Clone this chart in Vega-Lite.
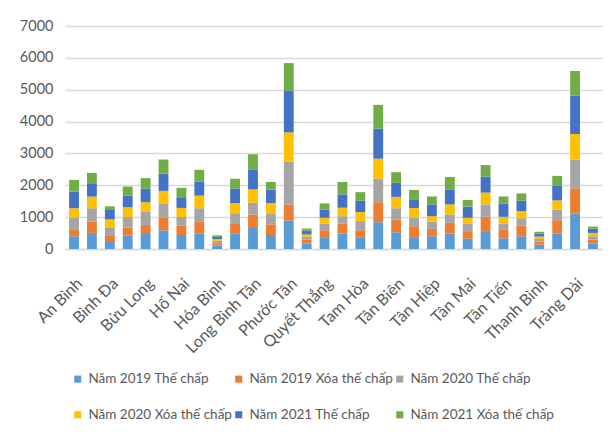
{
  "$schema": "https://vega.github.io/schema/vega-lite/v6.json",
  "width": 537,
  "height": 223,
  "autosize": {"type": "none"},
  "padding": {"left": 65, "top": 26, "right": 14, "bottom": 191},
  "background": "white",
  "config": {"font": "Lato", "view": {"stroke": null}},
  "data": {
    "values": [
      {"ward": "An Bình", "Năm 2019 Thế chấp": 400, "Năm 2019 Xóa thế chấp": 220, "Năm 2020 Thế chấp": 355, "Năm 2020 Xóa thế chấp": 305, "Năm 2021 Thế chấp": 525, "Năm 2021 Xóa thế chấp": 365},
      {"ward": "An Hòa", "Năm 2019 Thế chấp": 505, "Năm 2019 Xóa thế chấp": 355, "Năm 2020 Thế chấp": 420, "Năm 2020 Xóa thế chấp": 365, "Năm 2021 Thế chấp": 420, "Năm 2021 Xóa thế chấp": 325},
      {"ward": "Bình Đa", "Năm 2019 Thế chấp": 250, "Năm 2019 Xóa thế chấp": 160, "Năm 2020 Thế chấp": 250, "Năm 2020 Xóa thế chấp": 270, "Năm 2021 Thế chấp": 295, "Năm 2021 Xóa thế chấp": 115},
      {"ward": "Bửu Hòa", "Năm 2019 Thế chấp": 430, "Năm 2019 Xóa thế chấp": 240, "Năm 2020 Thế chấp": 335, "Năm 2020 Xóa thế chấp": 305, "Năm 2021 Thế chấp": 365, "Năm 2021 Xóa thế chấp": 285},
      {"ward": "Bửu Long", "Năm 2019 Thế chấp": 470, "Năm 2019 Xóa thế chấp": 285, "Năm 2020 Thế chấp": 410, "Năm 2020 Xóa thế chấp": 305, "Năm 2021 Thế chấp": 420, "Năm 2021 Xóa thế chấp": 335},
      {"ward": "Hiệp Hòa", "Năm 2019 Thế chấp": 585, "Năm 2019 Xóa thế chấp": 400, "Năm 2020 Thế chấp": 430, "Năm 2020 Xóa thế chấp": 410, "Năm 2021 Thế chấp": 545, "Năm 2021 Xóa thế chấp": 440},
      {"ward": "Hố Nai", "Năm 2019 Thế chấp": 440, "Năm 2019 Xóa thế chấp": 295, "Năm 2020 Thế chấp": 270, "Năm 2020 Xóa thế chấp": 285, "Năm 2021 Thế chấp": 335, "Năm 2021 Xóa thế chấp": 295},
      {"ward": "Hóa An", "Năm 2019 Thế chấp": 480, "Năm 2019 Xóa thế chấp": 390, "Năm 2020 Thế chấp": 410, "Năm 2020 Xóa thế chấp": 395, "Năm 2021 Thế chấp": 445, "Năm 2021 Xóa thế chấp": 365},
      {"ward": "Hóa Bình", "Năm 2019 Thế chấp": 110, "Năm 2019 Xóa thế chấp": 70, "Năm 2020 Thế chấp": 80, "Năm 2020 Xóa thế chấp": 50, "Năm 2021 Thế chấp": 70, "Năm 2021 Xóa thế chấp": 50},
      {"ward": "Long Bình", "Năm 2019 Thế chấp": 495, "Năm 2019 Xóa thế chấp": 315, "Năm 2020 Thế chấp": 315, "Năm 2020 Xóa thế chấp": 315, "Năm 2021 Thế chấp": 460, "Năm 2021 Xóa thế chấp": 305},
      {"ward": "Long Bình Tân", "Năm 2019 Thế chấp": 660, "Năm 2019 Xóa thế chấp": 420, "Năm 2020 Thế chấp": 370, "Năm 2020 Xóa thế chấp": 420, "Năm 2021 Thế chấp": 630, "Năm 2021 Xóa thế chấp": 475},
      {"ward": "Long Hưng", "Năm 2019 Thế chấp": 440, "Năm 2019 Xóa thế chấp": 335, "Năm 2020 Thế chấp": 345, "Năm 2020 Xóa thế chấp": 325, "Năm 2021 Thế chấp": 420, "Năm 2021 Xóa thế chấp": 240},
      {"ward": "Phước Tân", "Năm 2019 Thế chấp": 895, "Năm 2019 Xóa thế chấp": 495, "Năm 2020 Thế chấp": 1355, "Năm 2020 Xóa thế chấp": 915, "Năm 2021 Thế chấp": 1315, "Năm 2021 Xóa thế chấp": 860},
      {"ward": "Quang Vinh", "Năm 2019 Thế chấp": 170, "Năm 2019 Xóa thế chấp": 125, "Năm 2020 Thế chấp": 85, "Năm 2020 Xóa thế chấp": 75, "Năm 2021 Thế chấp": 115, "Năm 2021 Xóa thế chấp": 70},
      {"ward": "Quyết Thắng", "Năm 2019 Thế chấp": 370, "Năm 2019 Xóa thế chấp": 220, "Năm 2020 Thế chấp": 200, "Năm 2020 Xóa thế chấp": 190, "Năm 2021 Thế chấp": 260, "Năm 2021 Xóa thế chấp": 190},
      {"ward": "Tam Hiệp", "Năm 2019 Thế chấp": 485, "Năm 2019 Xóa thế chấp": 305, "Năm 2020 Thế chấp": 240, "Năm 2020 Xóa thế chấp": 265, "Năm 2021 Thế chấp": 420, "Năm 2021 Xóa thế chấp": 390},
      {"ward": "Tam Hòa", "Năm 2019 Thế chấp": 370, "Năm 2019 Xóa thế chấp": 220, "Năm 2020 Thế chấp": 285, "Năm 2020 Xóa thế chấp": 285, "Năm 2021 Thế chấp": 355, "Năm 2021 Xóa thế chấp": 270},
      {"ward": "Tam Phước", "Năm 2019 Thế chấp": 840, "Năm 2019 Xóa thế chấp": 630, "Năm 2020 Thế chấp": 735, "Năm 2020 Xóa thế chấp": 630, "Năm 2021 Thế chấp": 945, "Năm 2021 Xóa thế chấp": 745},
      {"ward": "Tân Biên", "Năm 2019 Thế chấp": 525, "Năm 2019 Xóa thế chấp": 400, "Năm 2020 Thế chấp": 355, "Năm 2020 Xóa thế chấp": 355, "Năm 2021 Thế chấp": 440, "Năm 2021 Xóa thế chấp": 335},
      {"ward": "Tân Hạnh", "Năm 2019 Thế chấp": 370, "Năm 2019 Xóa thế chấp": 345, "Năm 2020 Thế chấp": 265, "Năm 2020 Xóa thế chấp": 305, "Năm 2021 Thế chấp": 275, "Năm 2021 Xóa thế chấp": 295},
      {"ward": "Tân Hiệp", "Năm 2019 Thế chấp": 400, "Năm 2019 Xóa thế chấp": 230, "Năm 2020 Thế chấp": 230, "Năm 2020 Xóa thế chấp": 170, "Năm 2021 Thế chấp": 370, "Năm 2021 Xóa thế chấp": 250},
      {"ward": "Tân Hòa", "Năm 2019 Thế chấp": 485, "Năm 2019 Xóa thế chấp": 335, "Năm 2020 Thế chấp": 265, "Năm 2020 Xóa thế chấp": 315, "Năm 2021 Thế chấp": 470, "Năm 2021 Xóa thế chấp": 390},
      {"ward": "Tân Mai", "Năm 2019 Thế chấp": 325, "Năm 2019 Xóa thế chấp": 235, "Năm 2020 Thế chấp": 230, "Năm 2020 Xóa thế chấp": 190, "Năm 2021 Thế chấp": 350, "Năm 2021 Xóa thế chấp": 210},
      {"ward": "Tân Phong", "Năm 2019 Thế chấp": 560, "Năm 2019 Xóa thế chấp": 450, "Năm 2020 Thế chấp": 390, "Năm 2020 Xóa thế chấp": 370, "Năm 2021 Thế chấp": 505, "Năm 2021 Xóa thế chấp": 360},
      {"ward": "Tân Tiến", "Năm 2019 Thế chấp": 335, "Năm 2019 Xóa thế chấp": 265, "Năm 2020 Thế chấp": 190, "Năm 2020 Xóa thế chấp": 220, "Năm 2021 Thế chấp": 410, "Năm 2021 Xóa thế chấp": 230},
      {"ward": "Tân Vạn", "Năm 2019 Thế chấp": 400, "Năm 2019 Xóa thế chấp": 335, "Năm 2020 Thế chấp": 230, "Năm 2020 Xóa thế chấp": 220, "Năm 2021 Thế chấp": 330, "Năm 2021 Xóa thế chấp": 230},
      {"ward": "Thanh Bình", "Năm 2019 Thế chấp": 135, "Năm 2019 Xóa thế chấp": 95, "Năm 2020 Thế chấp": 85, "Năm 2020 Xóa thế chấp": 75, "Năm 2021 Thế chấp": 95, "Năm 2021 Xóa thế chấp": 55},
      {"ward": "Thống Nhất", "Năm 2019 Thế chấp": 485, "Năm 2019 Xóa thế chấp": 420, "Năm 2020 Thế chấp": 335, "Năm 2020 Xóa thế chấp": 285, "Năm 2021 Thế chấp": 455, "Năm 2021 Xóa thế chấp": 315},
      {"ward": "Trảng Dài", "Năm 2019 Thế chấp": 1105, "Năm 2019 Xóa thế chấp": 800, "Năm 2020 Thế chấp": 895, "Năm 2020 Xóa thế chấp": 810, "Năm 2021 Thế chấp": 1210, "Năm 2021 Xóa thế chấp": 770},
      {"ward": "Trung Dũng", "Năm 2019 Thế chấp": 170, "Năm 2019 Xóa thế chấp": 125, "Năm 2020 Thế chấp": 105, "Năm 2020 Xóa thế chấp": 105, "Năm 2021 Thế chấp": 135, "Năm 2021 Xóa thế chấp": 65}
    ]
  },
  "transform": [
    {"fold": ["Năm 2019 Thế chấp", "Năm 2019 Xóa thế chấp", "Năm 2020 Thế chấp", "Năm 2020 Xóa thế chấp", "Năm 2021 Thế chấp", "Năm 2021 Xóa thế chấp"], "as": ["series", "value"]}
  ],
  "mark": {"type": "bar"},
  "encoding": {
    "x": {
      "field": "ward", "type": "nominal", "sort": null,
      "scale": {"paddingInner": 0.45, "paddingOuter": 0.23},
      "axis": {
        "title": null,
        "values": ["An Bình", "Bình Đa", "Bửu Long", "Hố Nai", "Hóa Bình", "Long Bình Tân", "Phước Tân", "Quyết Thắng", "Tam Hòa", "Tân Biên", "Tân Hiệp", "Tân Mai", "Tân Tiến", "Thanh Bình", "Trảng Dài"],
        "labelAngle": -45, "labelAlign": "right", "labelBaseline": "top",
        "labelFontSize": 16, "labelColor": "#595959", "labelPadding": 26, "labelDx": -3,
        "ticks": false, "domainColor": "#d9d9d9", "domainWidth": 1.5, "grid": false
      }
    },
    "y": {
      "field": "value", "type": "quantitative", "stack": "zero",
      "scale": {"domain": [0, 7000], "nice": false},
      "axis": {
        "title": null, "format": "d",
        "values": [0, 1000, 2000, 3000, 4000, 5000, 6000, 7000],
        "labelFontSize": 14.5, "labelColor": "#595959", "labelPadding": 12,
        "ticks": false, "domain": false, "gridColor": "#d9d9d9", "gridWidth": 1.5
      }
    },
    "color": {
      "field": "series", "type": "nominal",
      "scale": {
        "domain": ["Năm 2019 Thế chấp", "Năm 2019 Xóa thế chấp", "Năm 2020 Thế chấp", "Năm 2020 Xóa thế chấp", "Năm 2021 Thế chấp", "Năm 2021 Xóa thế chấp"],
        "range": ["#5B9BD5", "#ED7D31", "#A5A5A5", "#FFC000", "#4472C4", "#70AD47"]
      },
      "legend": {
        "title": null, "orient": "none", "legendX": 6, "legendY": 346,
        "columns": 3, "direction": "horizontal",
        "symbolType": "square", "symbolSize": 50, "symbolStrokeWidth": 0,
        "labelFontSize": 13.5, "labelColor": "#595959", "labelLimit": 300,
        "rowPadding": 21, "columnPadding": 0, "labelOffset": 4
      }
    },
    "order": {"field": "series", "type": "ordinal", "sort": "ascending"}
  }
}
